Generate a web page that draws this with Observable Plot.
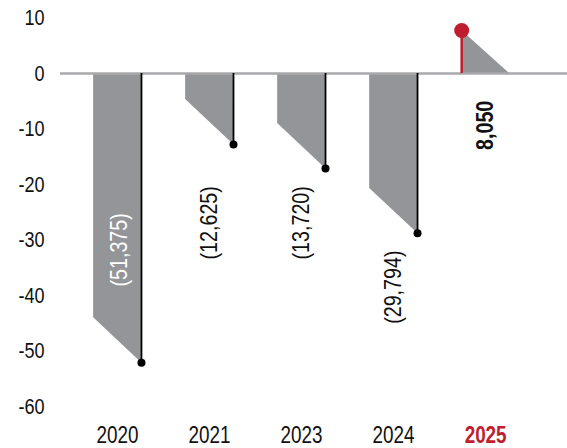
<!DOCTYPE html>
<html>
<head>
<meta charset="utf-8">
<script src="https://cdn.jsdelivr.net/npm/d3@7"></script>
<script src="https://cdn.jsdelivr.net/npm/@observablehq/plot@0.6"></script>
<style>
  html, body { margin: 0; padding: 0; background: #fff; }
  #chart svg { display: block; }
</style>
</head>
<body>
<div id="chart"></div>
<script>
// ---- data ----
const years = ["2020", "2021", "2023", "2024", "2025"];
// labelled values (thousands)
const values = [-51.375, -12.625, -13.72, -29.794, 8.05];
// heights at which the reference actually draws each bar end
const barLevels = [-52.1, -12.8, -17.1, -28.8, 7.75];
const yTicks = [10, 0, -10, -20, -30, -40, -50, -60];
const highlightYear = "2025";

// ---- styling ----
const FONT = "'Liberation Sans Narrow', 'Arial Narrow', 'Liberation Sans', Arial, sans-serif";
const GRAY = "#939598";
const RED = "#be1e2d";
const half = 0.26;   // half bar width in category units
const drop = 8.1;    // slanted edge height in value units
const CONDENSE = 0.82; // narrow-font emulation

const fmt = d3.format(",");
const labelText = v => v < 0 ? `(${fmt(Math.round(-v * 1000))})` : fmt(Math.round(v * 1000));

const rows = years.map((yr, i) => {
  const v = barLevels[i];
  return {
    yr, i, v,
    label: labelText(values[i]),
    lineX: v < 0 ? i + half : i - half,
    highlight: yr === highlightYear
  };
});

const shapes = rows.flatMap(d => d.v < 0
  ? [{yr: d.yr, x: d.i - half, y1: 0, y2: d.v + drop}, {yr: d.yr, x: d.i + half, y1: 0, y2: d.v}]
  : [{yr: d.yr, x: d.i - half, y1: 0, y2: d.v}, {yr: d.yr, x: d.i + half, y1: 0, y2: 0}]);

const insideLabels = rows.filter(d => d.v < -45);
const belowLabels = rows.filter(d => d.v < 0 && d.v >= -45);
const aboveLabels = rows.filter(d => d.v >= 0);

const chart = Plot.plot({
  width: 567,
  height: 448,
  marginLeft: 60,
  marginRight: 0,
  marginTop: 17.5,
  marginBottom: 42,
  style: {fontFamily: FONT, fontSize: "22px", color: "#111"},
  x: {domain: [-0.62, 4.89], axis: null},
  y: {domain: [-60, 10], axis: null},
  marks: [
    Plot.areaY(shapes, {x: "x", y1: "y1", y2: "y2", z: "yr", fill: GRAY, curve: "linear"}),
    Plot.ruleY([0], {stroke: "#a9a9ab", strokeWidth: 2.5}),
    Plot.ruleX(rows, {x: "lineX", y1: 0, y2: "v",
      stroke: d => d.highlight ? RED : "#000",
      strokeWidth: d => d.highlight ? 2.5 : 1.8}),
    Plot.dot(rows.filter(d => !d.highlight), {x: "lineX", y: "v", r: 4, fill: "#000", stroke: "none"}),
    Plot.dot(rows.filter(d => d.highlight), {x: "lineX", y: "v", r: 7.5, fill: RED, stroke: "none"}),
    // value labels
    Plot.text(insideLabels, {x: d => d.i, y: d => d.v * 0.61, text: "label", rotate: -90,
      textAnchor: "middle", lineAnchor: "middle", dx: 2, fill: "#fff", fontSize: 24}),
    Plot.text(belowLabels, {x: d => d.i, y: d => Math.min(d.v - 3.1, -20.3), text: "label", rotate: -90,
      textAnchor: "end", lineAnchor: "middle", fill: "#111", fontSize: 24}),
    Plot.text(aboveLabels, {x: d => d.i, y: -4.9, text: "label", rotate: -90,
      textAnchor: "end", lineAnchor: "middle", fill: "#111", fontSize: 24, fontWeight: "bold"}),
    // y axis
    Plot.axisY(yTicks, {tickSize: 0, tickPadding: 16, fontSize: 22, label: null, fill: "#111",
      tickFormat: d => String(d)}),
    // x category labels
    Plot.text(rows.filter(d => !d.highlight), {x: "i", text: "yr", frameAnchor: "bottom", dy: 29,
      lineAnchor: "middle", fill: "#111", fontSize: 23}),
    Plot.text(rows.filter(d => d.highlight), {x: "i", text: "yr", frameAnchor: "bottom", dy: 29,
      lineAnchor: "middle", fill: RED, fontSize: 23, fontWeight: "bold"})
  ]
});

document.getElementById("chart").appendChild(chart);

// emulate a condensed typeface when no narrow font is installed
const probe = document.createElementNS("http://www.w3.org/2000/svg", "text");
probe.textContent = "0000000000";
probe.setAttribute("font-size", "20");
chart.appendChild(probe);
const probeW = probe.getComputedTextLength();
chart.removeChild(probe);
const alreadyNarrow = probeW < 200 * 0.5; // narrow faces: ~0.456em per digit
if (!alreadyNarrow) {
  chart.querySelectorAll("text").forEach(t => {
    const len = t.getComputedTextLength();
    if (len > 0) {
      t.setAttribute("textLength", (len * CONDENSE).toFixed(2));
      t.setAttribute("lengthAdjust", "spacingAndGlyphs");
    }
  });
}
</script>
</body>
</html>
